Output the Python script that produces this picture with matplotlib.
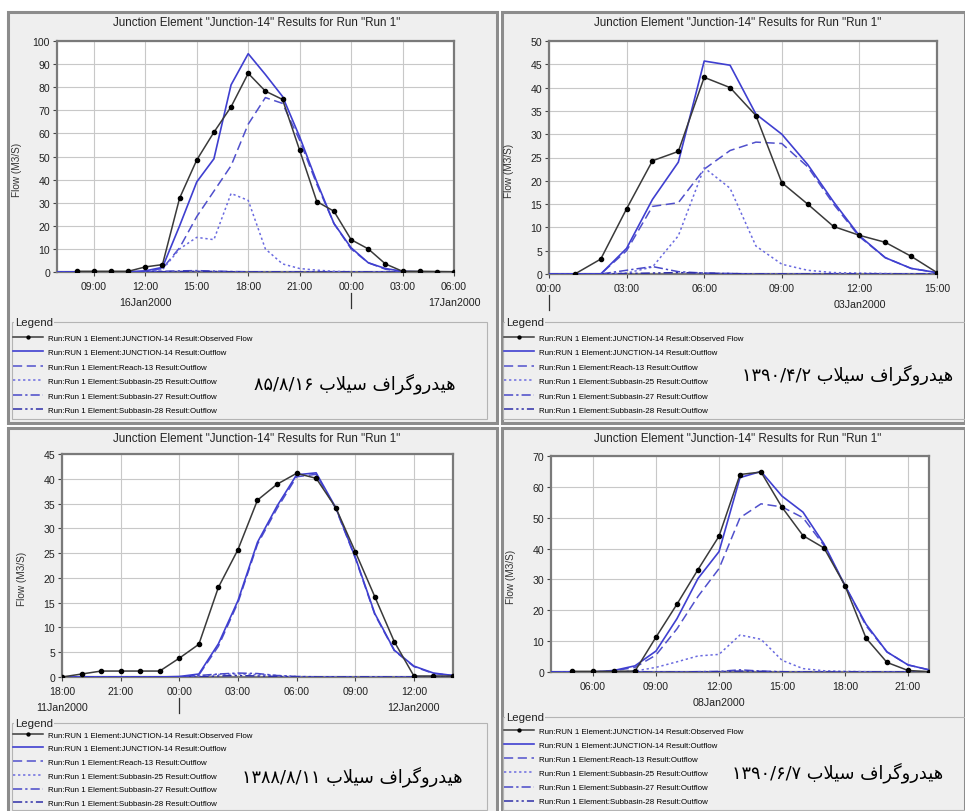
#!/usr/bin/env python3
"""
Four HEC-HMS hydrographs for Junction-14 (observed vs simulated flow),
each with its Persian caption, redrawn with matplotlib.
"""
import matplotlib
matplotlib.use("Agg")
import matplotlib.pyplot as plt
from matplotlib.patches import Rectangle
from matplotlib.ticker import FuncFormatter, MultipleLocator
from matplotlib.transforms import blended_transform_factory

# ---- data (hours counted from 00:00 of the first day shown) ----
# flood 1: 16Jan2000
obs_hours_1 = list(range(8, 31))
obs_1 = [0.3, 0.3, 0.3, 0.3, 2.2, 3.2, 32, 48.5, 60.5, 71.5, 86, 78.3, 74.7,
         52.7, 30.5, 26.3, 14, 10, 3.5, 0.3, 0.3, 0.2, 0.1]
sim_hours_1 = list(range(6, 31))
out_1 = [0, 0, 0, 0, 0, 0.1, 0.5, 2, 20, 39, 49, 81, 94.5, 85.5, 76, 58.5, 39,
         21, 10.5, 4, 1.5, 0.3, 0.1, 0, 0]
reach_1 = [0, 0, 0, 0, 0, 0, 0.2, 1.5, 10.5, 24, 35, 46, 64, 75.5, 73, 57, 38,
           21, 10, 4, 1.2, 0.2, 0, 0, 0]
sub25_1 = [0, 0, 0, 0, 0, 0, 0.1, 1, 10, 15, 14, 34, 31, 10, 3.5, 1.5, 0.8,
           0.3, 0.1, 0, 0, 0, 0, 0, 0]
sub27_1 = [0, 0, 0, 0, 0, 0, 0.1, 0.3, 0.5, 0.6, 0.4, 0.2, 0.1, 0, 0, 0, 0,
           0, 0, 0, 0, 0, 0, 0, 0]
sub28_1 = [0, 0, 0, 0, 0, 0, 0, 0.1, 0.2, 0.3, 0.2, 0.1, 0, 0, 0, 0, 0,
           0, 0, 0, 0, 0, 0, 0, 0]

# flood 2: 03Jan2000
obs_hours_2 = list(range(1, 16))
obs_2 = [0, 3.2, 14, 24.3, 26.3, 42.2, 40, 34, 19.6, 15, 10.2, 8.3, 6.8, 3.8, 0.3]
sim_hours_2 = list(range(0, 16))
out_2 = [0, 0, 0, 5.5, 16, 24, 45.7, 44.8, 34.3, 30, 23.5, 15.5, 8.2, 3.5, 1.2, 0.3]
reach_2 = [0, 0, 0, 5, 14.5, 15.3, 22.5, 26.5, 28.3, 28, 23, 15, 8, 3.5, 1.2, 0.3]
sub25_2 = [0, 0, 0, 0.2, 1.5, 8.2, 22.8, 18.4, 6, 2.1, 0.8, 0.3, 0.2, 0.1, 0, 0]
sub27_2 = [0, 0, 0, 0.8, 1.6, 0.5, 0.2, 0.1, 0, 0, 0, 0, 0, 0, 0, 0]
sub28_2 = [0, 0, 0, 0.1, 0.2, 0.3, 0.2, 0.1, 0, 0, 0, 0, 0, 0, 0, 0]

# flood 3: 11Jan2000 - 12Jan2000
obs_hours_3 = list(range(18, 39))
obs_3 = [0, 0.6, 1.2, 1.2, 1.2, 1.2, 3.8, 6.6, 18.1, 25.7, 35.7, 38.9, 41.1,
         40.1, 34.2, 25.3, 16.2, 7.1, 0.2, 0.2, 0.2]
sim_hours_3 = list(range(18, 39))
out_3 = [0, 0, 0, 0, 0, 0, 0.1, 0.6, 6.7, 15.4, 27.2, 34.5, 40.8, 41.2, 34.2,
         24.2, 12.8, 5.4, 2.2, 0.8, 0.3]
reach_3 = [0, 0, 0, 0, 0, 0, 0.05, 0.4, 6.2, 15, 26.8, 34, 40.4, 40.9, 34,
           24, 12.6, 5.3, 2.1, 0.7, 0.3]
sub25_3 = [0, 0, 0, 0, 0, 0, 0, 0.2, 0.5, 0.6, 0.5, 0.3, 0.1, 0.05, 0, 0, 0,
           0, 0, 0, 0]
sub27_3 = [0, 0, 0, 0, 0, 0, 0, 0.3, 0.6, 0.8, 0.7, 0.3, 0.1, 0, 0, 0, 0,
           0, 0, 0, 0]
sub28_3 = [0, 0, 0, 0, 0, 0, 0, 0, 0.2, 0.3, 0.2, 0.1, 0, 0, 0, 0, 0,
           0, 0, 0, 0]

# flood 4: 08Jan2000
obs_hours_4 = list(range(5, 23))
obs_4 = [0.2, 0.2, 0.2, 0.3, 11.3, 22, 33.2, 44, 64, 64.8, 53.4, 44.2, 40.2,
         28, 11, 3.1, 0.5, 0.1]
sim_hours_4 = list(range(4, 23))
out_4 = [0, 0, 0, 0.5, 2, 6.8, 17.3, 30.3, 39, 63, 65, 57, 51.8, 41.5, 28,
         15.5, 6.5, 2.3, 0.7]
reach_4 = [0, 0, 0, 0.4, 1.5, 5.5, 14, 24.5, 33.5, 50, 54.5, 53.5, 50, 41, 28,
           15, 6.5, 2.3, 0.7]
sub25_4 = [0, 0, 0, 0, 0.3, 1.5, 3.3, 5.2, 5.7, 12, 10.6, 3.8, 1.1, 0.4, 0.2,
           0.1, 0, 0, 0]
sub27_4 = [0, 0, 0, 0, 0, 0, 0, 0.1, 0.2, 0.7, 0.3, 0.1, 0, 0, 0, 0, 0, 0, 0]
sub28_4 = [0, 0, 0, 0, 0, 0, 0, 0, 0.1, 0.3, 0.2, 0, 0, 0, 0, 0, 0, 0, 0]

series_labels = [
    "Run:RUN 1 Element:JUNCTION-14 Result:Observed Flow",
    "Run:RUN 1 Element:JUNCTION-14 Result:Outflow",
    "Run:Run 1 Element:Reach-13 Result:Outflow",
    "Run:Run 1 Element:Subbasin-25 Result:Outflow",
    "Run:Run 1 Element:Subbasin-27 Result:Outflow",
    "Run:Run 1 Element:Subbasin-28 Result:Outflow",
]
chart_title = 'Junction Element "Junction-14" Results for Run "Run 1"'
caption_words = ["هیدروگراف", "سیلاب"]
caption_dates = ["۸۵/۸/۱۶", "۱۳۹۰/۴/۲", "۱۳۸۸/۸/۱۱", "۱۳۹۰/۶/۷"]
# (hour, label) pairs for the second row of the time axis
day_labels = [
    [(12, "16Jan2000"), (30, "17Jan2000")],
    [(12, "03Jan2000")],
    [(18, "11Jan2000"), (36, "12Jan2000")],
    [(12, "08Jan2000")],
]
day_breaks = [[24], [0], [24], []]

# ---- layout, in pixels of the 965x812 picture ----
W, H = 965, 812
panels = [
    # frame, axes box, xlim, ymax, ystep, legend (left, top, right, gap,
    # row spacing), caption centre
    dict(frame=(8, 13, 497, 424), axes=(57, 42, 454, 273), xlim=(6.85, 30),
         ymax=100, ystep=10, legend=(12, 323, 487, 12, 0.88),
         caption=(355, 384)),
    dict(frame=(502, 13, 965, 424), axes=(549, 42, 937, 275), xlim=(0, 15),
         ymax=50, ystep=5, legend=(503, 323, 970, 12, 0.88),
         caption=(848, 375)),
    dict(frame=(8, 429, 497, 815), axes=(62, 455, 453, 678), xlim=(18, 38),
         ymax=45, ystep=5, legend=(12, 724, 487, 8, 0.78),
         caption=(352, 777)),
    dict(frame=(502, 429, 965, 815), axes=(551, 457, 929, 673), xlim=(4, 22),
         ymax=70, ystep=10, legend=(503, 718, 970, 10, 0.84),
         caption=(838, 773)),
]

PANEL_BG = "#efefef"
OBS_COLOR = "#3a3a3a"
BLUE = "#3f3fd0"

plt.rcParams['font.family'] = ['Liberation Sans', 'DejaVu Sans']

# contextual forms (isolated, final, initial, medial) of the letters used
ARABIC_FORMS = {
    "\u0627": ("\uFE8D", "\uFE8E", None, None),
    "\u0628": ("\uFE8F", "\uFE90", "\uFE91", "\uFE92"),
    "\u062F": ("\uFEA9", "\uFEAA", None, None),
    "\u0631": ("\uFEAD", "\uFEAE", None, None),
    "\u0633": ("\uFEB1", "\uFEB2", "\uFEB3", "\uFEB4"),
    "\u0641": ("\uFED1", "\uFED2", "\uFED3", "\uFED4"),
    "\u0644": ("\uFEDD", "\uFEDE", "\uFEDF", "\uFEE0"),
    "\u0647": ("\uFEE9", "\uFEEA", "\uFEEB", "\uFEEC"),
    "\u0648": ("\uFEED", "\uFEEE", None, None),
    "\u06AF": ("\uFB92", "\uFB93", "\uFB94", "\uFB95"),
    "\u06CC": ("\uFBFC", "\uFBFD", "\uFBFE", "\uFBFF"),
}


def shape_word(word):
    """join persian letters by hand, matplotlib does no text shaping"""
    out = []
    i = 0
    while i < len(word):
        ch = word[i]
        prev = word[i - 1] if i > 0 else None
        joins_prev = prev in ARABIC_FORMS and ARABIC_FORMS[prev][2] is not None
        if ch == "\u0644" and i + 1 < len(word) and word[i + 1] == "\u0627":
            #lam-alef ligature
            out.append("\uFEFC" if joins_prev else "\uFEFB")
            i += 2
            continue
        forms = ARABIC_FORMS[ch]
        nxt = word[i + 1] if i + 1 < len(word) else None
        joins_next = forms[2] is not None and nxt in ARABIC_FORMS
        if joins_prev and joins_next:
            out.append(forms[3])
        elif joins_next:
            out.append(forms[2])
        elif joins_prev:
            out.append(forms[1])
        else:
            out.append(forms[0])
        i += 1
    return "".join(out)


def visual_caption(date):
    #right-to-left words laid out left to right, date sits on the left
    words = " ".join(shape_word(w)[::-1] for w in reversed(caption_words))
    return date + " " + words


def fx(x):
    return x / W


def fy(y):
    return 1 - y / H


def draw_panel(fig, cfg, data, idx):
    x0, y0, x1, y1 = cfg["frame"]
    #frame goes below every axes
    fig.patches.append(Rectangle((fx(x0), fy(y1)), fx(x1 - x0), (y1 - y0) / H,
                                 transform=fig.transFigure, facecolor=PANEL_BG,
                                 edgecolor="#8c8c8c", linewidth=2.2, zorder=-2))
    ax0, ay0, ax1, ay1 = cfg["axes"]
    ax = fig.add_axes([fx(ax0), fy(ay1), fx(ax1 - ax0), (ay1 - ay0) / H])
    ax.set_facecolor("white")

    obs_h, obs, sim_h, out, reach, s25, s27, s28 = data
    lines = []
    lines += ax.plot(obs_h, obs, color=OBS_COLOR, lw=1.1, marker="o",
                     markersize=3, markerfacecolor="black",
                     markeredgecolor="black", zorder=5)
    lines += ax.plot(sim_h, out, color=BLUE, lw=1.2, zorder=4)
    lines += ax.plot(sim_h, reach, color="#5050cc", lw=1.1,
                     dashes=(6, 3), zorder=3)
    lines += ax.plot(sim_h, s25, color="#6a6ae0", lw=1.1,
                     dashes=(1.5, 1.8), zorder=3)
    lines += ax.plot(sim_h, s27, color="#4848c8", lw=1.1,
                     dashes=(6, 2, 1.5, 2), zorder=3)
    lines += ax.plot(sim_h, s28, color="#2e2ea8", lw=1.1,
                     dashes=(6, 2, 1.5, 2, 1.5, 2), zorder=3)

    ax.set_xlim(*cfg["xlim"])
    ax.set_ylim(0, cfg["ymax"])
    ax.xaxis.set_major_locator(MultipleLocator(3))
    ax.xaxis.set_major_formatter(
        FuncFormatter(lambda h, pos: "{:02d}:00".format(int(round(h)) % 24)))
    ax.yaxis.set_major_locator(MultipleLocator(cfg["ystep"]))
    ax.grid(True, color="#c8c8c8", lw=0.8)
    ax.set_axisbelow(True)
    for sp in ax.spines.values():
        sp.set_color("#7a7a7a")
        sp.set_linewidth(1.6)
    ax.tick_params(direction="out", length=3, width=0.8, color="#444444",
                   labelsize=7.6, labelcolor="#222222", pad=2)
    ax.tick_params(axis="x", pad=3.5)

    # second row of the time axis
    trans = blended_transform_factory(ax.transData, fig.transFigure)
    date_y = ay1 + 30
    for hour, label in day_labels[idx]:
        ax.text(hour, fy(date_y), label, transform=trans, ha="center",
                va="center", fontsize=7.7, color="#222222")
    for hour in day_breaks[idx]:
        ax.plot([hour, hour], [fy(ay1 + 21), fy(ay1 + 36)], transform=trans,
                color="#333333", lw=0.9, clip_on=False)

    fig.text(fx((x0 + x1) / 2 + 4), fy(y0 + 10), chart_title, ha="center",
             va="center", fontsize=8.4, color="#222222")
    fig.text(fx(ax0 - 40), fy((ay0 + ay1) / 2 + 12), "Flow (M3/S)",
             rotation=90, ha="center", va="center", fontsize=7.2,
             color="#333333")

    # legend group box
    lx0, ly0, lx1, gap, spacing = cfg["legend"]
    fig.patches.append(Rectangle((fx(lx0), fy(y1 - 4)), fx(lx1 - lx0),
                                 (y1 - 4 - ly0) / H, transform=fig.transFigure,
                                 facecolor="none", edgecolor="#b4b4b4",
                                 linewidth=0.8, zorder=-1))
    fig.text(fx(lx0 + 3), fy(ly0), "Legend", ha="left", va="center",
             fontsize=8.2, color="#222222",
             bbox=dict(facecolor=PANEL_BG, edgecolor="none", pad=0.6))
    ax.legend(lines, series_labels, loc="upper left",
              bbox_to_anchor=(fx(lx0 + 1), fy(ly0 + gap)),
              bbox_transform=fig.transFigure, frameon=False, fontsize=5.7,
              handlelength=3.8, handletextpad=0.6, labelspacing=spacing,
              borderpad=0, borderaxespad=0, numpoints=1, markerscale=0.7)

    cx, cy = cfg["caption"]
    fig.text(fx(cx), fy(cy), visual_caption(caption_dates[idx]),
             family="DejaVu Sans", ha="center", va="center", fontsize=12.8,
             color="black")
    return ax


def main():
    fig = plt.figure(figsize=(W / 100, H / 100), dpi=100)
    fig.patch.set_facecolor("white")
    all_data = [
        (obs_hours_1, obs_1, sim_hours_1, out_1, reach_1, sub25_1, sub27_1, sub28_1),
        (obs_hours_2, obs_2, sim_hours_2, out_2, reach_2, sub25_2, sub27_2, sub28_2),
        (obs_hours_3, obs_3, sim_hours_3, out_3, reach_3, sub25_3, sub27_3, sub28_3),
        (obs_hours_4, obs_4, sim_hours_4, out_4, reach_4, sub25_4, sub27_4, sub28_4),
    ]
    for idx, cfg in enumerate(panels):
        draw_panel(fig, cfg, all_data[idx], idx)
    fig.savefig("out.png", dpi=100, facecolor=fig.get_facecolor())


if __name__ == "__main__":
    main()
